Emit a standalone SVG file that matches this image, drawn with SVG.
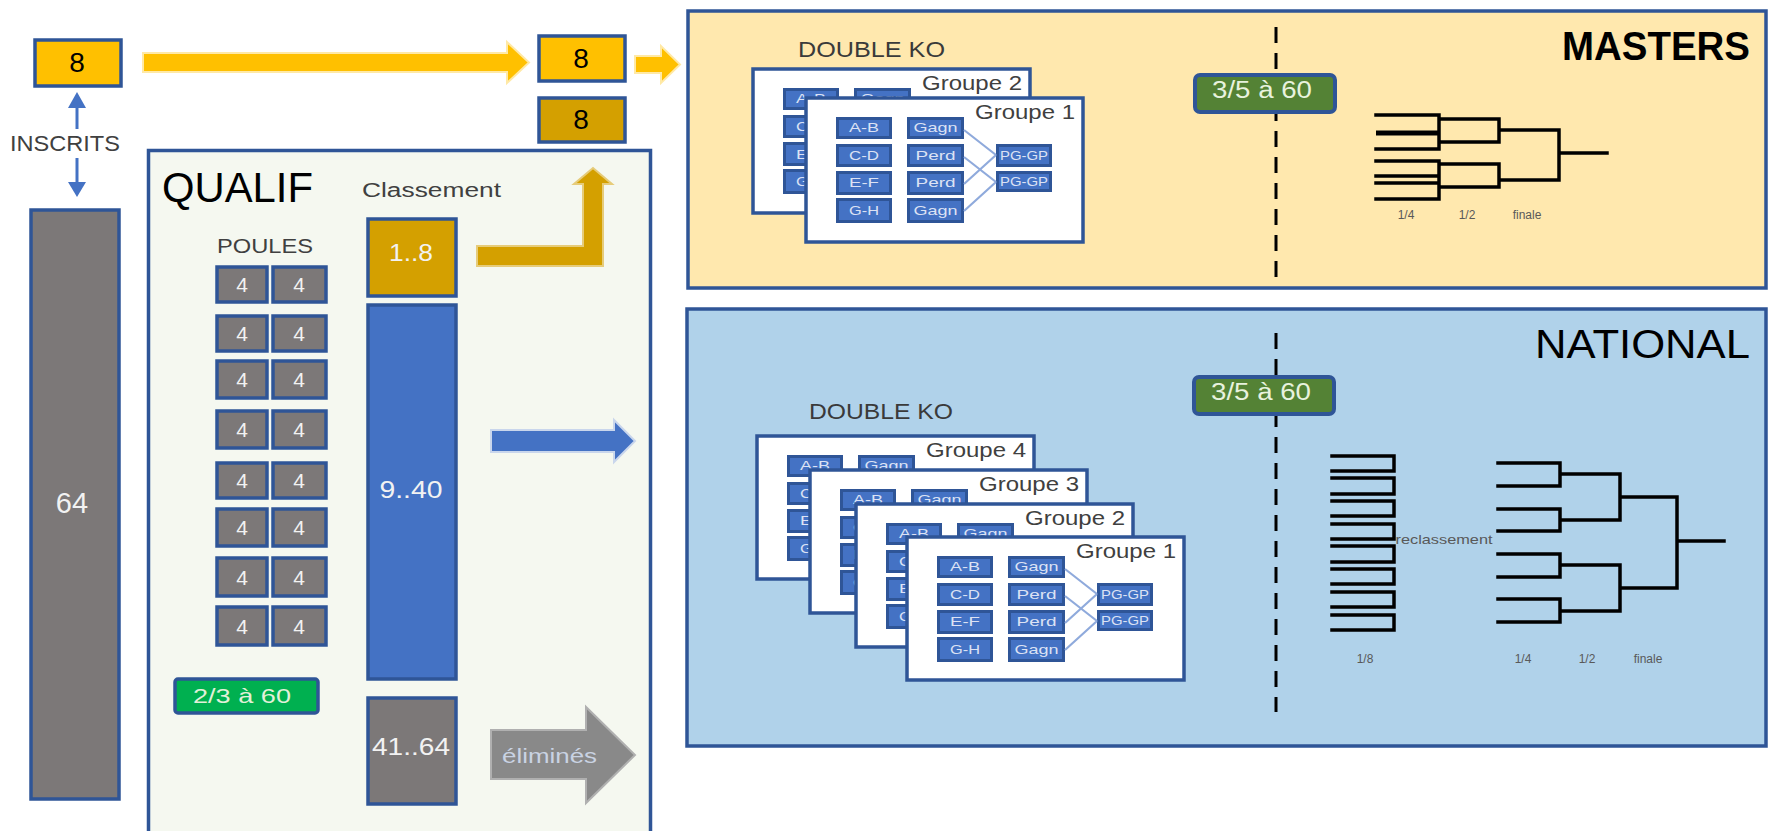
<svg xmlns="http://www.w3.org/2000/svg" width="1771" height="831" viewBox="0 0 1771 831">
<style>
text{font-family:"Liberation Sans",Arial,sans-serif;}
.bd{stroke:#2F5597;stroke-width:3.5;}
.gold{fill:#FFC000;}
.dgold{fill:#D4A000;}
.grey{fill:#7C7878;}
.blue{fill:#4472C4;}
.card{fill:#FFFFFF;stroke:#2F5597;stroke-width:3.5;}
.sb{fill:#4472C4;stroke:#2F5597;stroke-width:3;}
.st{fill:#DCE2F4;font-size:13px;text-anchor:middle;}
.gt{fill:#404040;font-size:20px;}
.wt{fill:#F2F2F2;text-anchor:middle;}
.x{stroke:#8FAADC;stroke-width:2.2;fill:none;}
.br{stroke:#000;stroke-width:3.5;fill:none;stroke-linecap:square;}
.lab{fill:#595959;font-size:12px;text-anchor:middle;}
.dash{stroke:#000;stroke-width:3;stroke-dasharray:16 10;}
.gr3{fill:#548235;stroke:#2F5597;stroke-width:4;}
</style>

<!-- panels -->
<g id="qualif">
<rect x="148.5" y="150.5" width="502" height="700" fill="#F5F8F0" class="bd"/>
<text x="162" y="202" font-size="43" fill="#000" textLength="151" lengthAdjust="spacingAndGlyphs">QUALIF</text>
<text x="362" y="197" font-size="20" fill="#404040" textLength="139" lengthAdjust="spacingAndGlyphs">Classement</text>
<text x="217" y="253" font-size="20" fill="#404040" textLength="96" lengthAdjust="spacingAndGlyphs">POULES</text>
</g>
<g id="masters">
<rect x="688" y="11" width="1078" height="277" fill="#FFE8AE" class="bd"/>
<text x="1562" y="60" font-size="40" font-weight="bold" fill="#000" textLength="188" lengthAdjust="spacingAndGlyphs">MASTERS</text>
<text x="798" y="57" font-size="22" fill="#3A3A3A" textLength="147" lengthAdjust="spacingAndGlyphs">DOUBLE KO</text>
<line x1="1276" y1="27" x2="1276" y2="279" class="dash"/>
</g>
<g id="national">
<rect x="687" y="309" width="1079" height="437" fill="#B0D2EA" class="bd"/>
<text x="1535" y="358" font-size="40" fill="#000" textLength="215" lengthAdjust="spacingAndGlyphs">NATIONAL</text>
<text x="809" y="419" font-size="22" fill="#3A3A3A" textLength="144" lengthAdjust="spacingAndGlyphs">DOUBLE KO</text>
<line x1="1276" y1="333" x2="1276" y2="712" class="dash"/>
</g>

<!-- left nodes -->
<g id="inscrits8">
<rect x="35" y="40" width="86" height="46" class="gold bd"/>
<text x="77" y="72" font-size="28" fill="#000" text-anchor="middle">8</text>
</g>
<g id="inscrits-label">
<text x="10" y="151" font-size="22" fill="#404040" textLength="110" lengthAdjust="spacingAndGlyphs">INSCRITS</text>
</g>
<g id="total64">
<rect x="31" y="210" width="88" height="589" class="grey bd"/>
<text x="72" y="513" font-size="29" class="wt">64</text>
</g>
<g id="masters8a">
<rect x="539" y="36" width="86" height="45" class="gold bd"/>
<text x="581" y="68" font-size="28" fill="#000" text-anchor="middle">8</text>
</g>
<g id="masters8b">
<rect x="539" y="98" width="86" height="44" class="dgold bd"/>
<text x="581" y="129" font-size="28" fill="#000" text-anchor="middle">8</text>
</g>

<!-- poules -->
<g id="poules">
<rect x="217" y="267" width="50" height="35" class="grey bd"/><rect x="273" y="267" width="53" height="35" class="grey bd"/>
<rect x="217" y="316" width="50" height="35" class="grey bd"/><rect x="273" y="316" width="53" height="35" class="grey bd"/>
<rect x="217" y="361" width="50" height="37" class="grey bd"/><rect x="273" y="361" width="53" height="37" class="grey bd"/>
<rect x="217" y="411" width="50" height="37" class="grey bd"/><rect x="273" y="411" width="53" height="37" class="grey bd"/>
<rect x="217" y="463" width="50" height="35" class="grey bd"/><rect x="273" y="463" width="53" height="35" class="grey bd"/>
<rect x="217" y="509" width="50" height="37" class="grey bd"/><rect x="273" y="509" width="53" height="37" class="grey bd"/>
<rect x="217" y="558" width="50" height="38" class="grey bd"/><rect x="273" y="558" width="53" height="38" class="grey bd"/>
<rect x="217" y="607" width="50" height="38" class="grey bd"/><rect x="273" y="607" width="53" height="38" class="grey bd"/>
<g font-size="21" class="wt">
<text x="242" y="292">4</text><text x="299" y="292">4</text>
<text x="242" y="341">4</text><text x="299" y="341">4</text>
<text x="242" y="387">4</text><text x="299" y="387">4</text>
<text x="242" y="437">4</text><text x="299" y="437">4</text>
<text x="242" y="488">4</text><text x="299" y="488">4</text>
<text x="242" y="535">4</text><text x="299" y="535">4</text>
<text x="242" y="585">4</text><text x="299" y="585">4</text>
<text x="242" y="634">4</text><text x="299" y="634">4</text>
</g>
</g>

<g id="rank1-8">
<rect x="368" y="219" width="88" height="77" class="dgold bd"/>
<text x="411" y="261" font-size="23" class="wt" textLength="44" lengthAdjust="spacingAndGlyphs">1..8</text>
</g>
<g id="rank9-40">
<rect x="368" y="305" width="88" height="374" class="blue bd"/>
<text x="411" y="498" font-size="23" class="wt" textLength="63" lengthAdjust="spacingAndGlyphs">9..40</text>
</g>
<g id="rank41-64">
<rect x="368" y="698" width="88" height="106" class="grey bd"/>
<text x="411" y="755" font-size="23" class="wt" textLength="78" lengthAdjust="spacingAndGlyphs">41..64</text>
</g>
<g id="ratio-qualif">
<rect x="175" y="679" width="143" height="34" rx="3" fill="#00B050" class="bd"/>
<text x="242" y="703" font-size="21" fill="#E2F0D9" text-anchor="middle" textLength="98" lengthAdjust="spacingAndGlyphs">2/3 à 60</text>
</g>

<!-- connectors -->
<g id="connectors">
<polygon points="143,53 507,53 507,42 529,62.5 507,83 507,72 143,72" fill="#FFC000" stroke="#FFE9A6" stroke-width="2"/>
<polygon points="635,56 661,56 661,46 680,64.5 661,83 661,73 635,73" fill="#FFC000" stroke="#FFE9A6" stroke-width="2"/>
<polygon points="477,246 583,246 583,184 574,184 593,168 612,184 603,184 603,266 477,266" fill="#D4A000" stroke="#E6CC7A" stroke-width="2"/>
<polygon points="491,430 614,430 614,420 635,441 614,462 614,452 491,452" fill="#4472C4" stroke="#C9D6EC" stroke-width="2"/>
<polygon points="491,730 586,730 586,707 635,755 586,803 586,779 491,779" fill="#898989" stroke="#B0B0B0" stroke-width="2"/>
<line x1="77" y1="129" x2="77" y2="104" stroke="#4472C4" stroke-width="3"/>
<polygon points="77,92 68,108 86,108" fill="#4472C4"/>
<line x1="77" y1="158" x2="77" y2="185" stroke="#4472C4" stroke-width="3"/>
<polygon points="68,182 86,182 77,197" fill="#4472C4"/>
</g>
<g id="elimines-label">
<text x="549.5" y="763" font-size="20" fill="#C9D3E3" text-anchor="middle" textLength="95" lengthAdjust="spacingAndGlyphs">éliminés</text>
</g>

<!-- MASTERS groups -->
<g id="m-groupe2">
<rect x="753" y="69" width="277" height="144" class="card"/>
<text x="922" y="90" class="gt" textLength="100" lengthAdjust="spacingAndGlyphs">Groupe 2</text>
<rect x="784.5" y="89.5" width="53" height="19" class="sb"/><rect x="855.5" y="89.5" width="54" height="19" class="sb"/>
<rect x="784.5" y="116.5" width="53" height="20" class="sb"/>
<rect x="784.5" y="143.5" width="53" height="21" class="sb"/>
<rect x="784.5" y="170.5" width="53" height="22" class="sb"/>
<text x="811" y="103" class="st" textLength="30" lengthAdjust="spacingAndGlyphs">A-B</text>
<text x="882.5" y="103" class="st" textLength="44" lengthAdjust="spacingAndGlyphs">Gagn</text>
<text x="811" y="131" class="st" textLength="30" lengthAdjust="spacingAndGlyphs">C-D</text>
<text x="811" y="159" class="st" textLength="30" lengthAdjust="spacingAndGlyphs">E-F</text>
<text x="811" y="186" class="st" textLength="30" lengthAdjust="spacingAndGlyphs">G-H</text>
</g>
<g id="m-groupe1">
<rect x="806" y="98" width="277" height="144" class="card"/>
<text x="975" y="119" class="gt" textLength="100" lengthAdjust="spacingAndGlyphs">Groupe 1</text>
<rect x="837.5" y="118.5" width="53" height="19" class="sb"/><rect x="908.5" y="118.5" width="54" height="19" class="sb"/>
<rect x="837.5" y="145.5" width="53" height="20" class="sb"/><rect x="908.5" y="145.5" width="54" height="20" class="sb"/>
<rect x="837.5" y="172.5" width="53" height="21" class="sb"/><rect x="908.5" y="172.5" width="54" height="21" class="sb"/>
<rect x="837.5" y="199.5" width="53" height="22" class="sb"/><rect x="908.5" y="199.5" width="54" height="22" class="sb"/>
<rect x="997.5" y="145.5" width="53" height="20" class="sb"/><rect x="997.5" y="172.5" width="53" height="18" class="sb"/>
<path class="x" d="M964,130 L996,155 M964,157 L996,182 M964,184 L996,155 M964,211 L996,182"/>
<text x="864" y="132" class="st" textLength="30" lengthAdjust="spacingAndGlyphs">A-B</text>
<text x="864" y="160" class="st" textLength="30" lengthAdjust="spacingAndGlyphs">C-D</text>
<text x="864" y="187" class="st" textLength="30" lengthAdjust="spacingAndGlyphs">E-F</text>
<text x="864" y="215" class="st" textLength="30" lengthAdjust="spacingAndGlyphs">G-H</text>
<text x="935.5" y="132" class="st" textLength="44" lengthAdjust="spacingAndGlyphs">Gagn</text>
<text x="935.5" y="160" class="st" textLength="40" lengthAdjust="spacingAndGlyphs">Perd</text>
<text x="935.5" y="187" class="st" textLength="40" lengthAdjust="spacingAndGlyphs">Perd</text>
<text x="935.5" y="215" class="st" textLength="44" lengthAdjust="spacingAndGlyphs">Gagn</text>
<text x="1024" y="160" class="st" textLength="48" lengthAdjust="spacingAndGlyphs">PG-GP</text>
<text x="1024" y="186" class="st" textLength="48" lengthAdjust="spacingAndGlyphs">PG-GP</text>
</g>
<g id="m-ratio">
<rect x="1195" y="75" width="140" height="37" rx="5" class="gr3"/>
<text x="1262" y="98" font-size="23" fill="#E8F2DE" text-anchor="middle" textLength="100" lengthAdjust="spacingAndGlyphs">3/5 à 60</text>
</g>
<g id="m-bracket">
<path class="br" d="M1376,115 H1439 M1376,149 H1439 M1376,161 H1439 M1376,176 H1439 M1376,183 H1439 M1376,199 H1439 M1439,115 V149 M1439,161 V199 M1439,119 H1499 M1439,142 H1499 M1439,164 H1499 M1439,187 H1499 M1499,119 V142 M1499,164 V187 M1499,130 H1559 M1499,180 H1559 M1559,130 V180 M1559,153 H1607"/>
<path d="M1376,133 H1439" stroke="#000" stroke-width="5"/>
<text x="1406" y="219" class="lab">1/4</text>
<text x="1467" y="219" class="lab">1/2</text>
<text x="1527" y="219" class="lab">finale</text>
</g>

<!-- NATIONAL groups -->
<g id="n-groupe4">
<rect x="757" y="436" width="277" height="143" class="card"/>
<text x="926" y="457" class="gt" textLength="100" lengthAdjust="spacingAndGlyphs">Groupe 4</text>
<rect x="788.5" y="456.5" width="53" height="19" class="sb"/><rect x="859.5" y="456.5" width="54" height="19" class="sb"/>
<rect x="788.5" y="483.5" width="53" height="20" class="sb"/>
<rect x="788.5" y="510.5" width="53" height="21" class="sb"/>
<rect x="788.5" y="537.5" width="53" height="22" class="sb"/>
<text x="815" y="470" class="st" textLength="30" lengthAdjust="spacingAndGlyphs">A-B</text>
<text x="886.5" y="470" class="st" textLength="44" lengthAdjust="spacingAndGlyphs">Gagn</text>
<text x="815" y="498" class="st" textLength="30" lengthAdjust="spacingAndGlyphs">C-D</text>
<text x="815" y="525" class="st" textLength="30" lengthAdjust="spacingAndGlyphs">E-F</text>
<text x="815" y="553" class="st" textLength="30" lengthAdjust="spacingAndGlyphs">G-H</text>
</g>
<g id="n-groupe3">
<rect x="810" y="470" width="277" height="143" class="card"/>
<text x="979" y="491" class="gt" textLength="100" lengthAdjust="spacingAndGlyphs">Groupe 3</text>
<rect x="841.5" y="490.5" width="53" height="19" class="sb"/><rect x="912.5" y="490.5" width="54" height="19" class="sb"/>
<rect x="841.5" y="517.5" width="53" height="20" class="sb"/>
<rect x="841.5" y="544.5" width="53" height="21" class="sb"/>
<rect x="841.5" y="571.5" width="53" height="22" class="sb"/>
<text x="868" y="504" class="st" textLength="30" lengthAdjust="spacingAndGlyphs">A-B</text>
<text x="939.5" y="504" class="st" textLength="44" lengthAdjust="spacingAndGlyphs">Gagn</text>
<text x="868" y="532" class="st" textLength="30" lengthAdjust="spacingAndGlyphs">C-D</text>
<text x="868" y="559" class="st" textLength="30" lengthAdjust="spacingAndGlyphs">E-F</text>
<text x="868" y="587" class="st" textLength="30" lengthAdjust="spacingAndGlyphs">G-H</text>
</g>
<g id="n-groupe2">
<rect x="856" y="504" width="277" height="143" class="card"/>
<text x="1025" y="525" class="gt" textLength="100" lengthAdjust="spacingAndGlyphs">Groupe 2</text>
<rect x="887.5" y="524.5" width="53" height="19" class="sb"/><rect x="958.5" y="524.5" width="54" height="19" class="sb"/>
<rect x="887.5" y="551.5" width="53" height="20" class="sb"/>
<rect x="887.5" y="578.5" width="53" height="21" class="sb"/>
<rect x="887.5" y="605.5" width="53" height="22" class="sb"/>
<text x="914" y="538" class="st" textLength="30" lengthAdjust="spacingAndGlyphs">A-B</text>
<text x="985.5" y="538" class="st" textLength="44" lengthAdjust="spacingAndGlyphs">Gagn</text>
<text x="914" y="566" class="st" textLength="30" lengthAdjust="spacingAndGlyphs">C-D</text>
<text x="914" y="593" class="st" textLength="30" lengthAdjust="spacingAndGlyphs">E-F</text>
<text x="914" y="621" class="st" textLength="30" lengthAdjust="spacingAndGlyphs">G-H</text>
</g>
<g id="n-groupe1">
<rect x="907" y="537" width="277" height="143" class="card"/>
<text x="1076" y="558" class="gt" textLength="100" lengthAdjust="spacingAndGlyphs">Groupe 1</text>
<rect x="938.5" y="557.5" width="53" height="19" class="sb"/><rect x="1009.5" y="557.5" width="54" height="19" class="sb"/>
<rect x="938.5" y="584.5" width="53" height="20" class="sb"/><rect x="1009.5" y="584.5" width="54" height="20" class="sb"/>
<rect x="938.5" y="611.5" width="53" height="21" class="sb"/><rect x="1009.5" y="611.5" width="54" height="21" class="sb"/>
<rect x="938.5" y="638.5" width="53" height="22" class="sb"/><rect x="1009.5" y="638.5" width="54" height="22" class="sb"/>
<rect x="1098.5" y="584.5" width="53" height="20" class="sb"/><rect x="1098.5" y="611.5" width="53" height="18" class="sb"/>
<path class="x" d="M1065,569 L1097,594 M1065,596 L1097,621 M1065,623 L1097,594 M1065,650 L1097,621"/>
<text x="965" y="571" class="st" textLength="30" lengthAdjust="spacingAndGlyphs">A-B</text>
<text x="965" y="599" class="st" textLength="30" lengthAdjust="spacingAndGlyphs">C-D</text>
<text x="965" y="626" class="st" textLength="30" lengthAdjust="spacingAndGlyphs">E-F</text>
<text x="965" y="654" class="st" textLength="30" lengthAdjust="spacingAndGlyphs">G-H</text>
<text x="1036.5" y="571" class="st" textLength="44" lengthAdjust="spacingAndGlyphs">Gagn</text>
<text x="1036.5" y="599" class="st" textLength="40" lengthAdjust="spacingAndGlyphs">Perd</text>
<text x="1036.5" y="626" class="st" textLength="40" lengthAdjust="spacingAndGlyphs">Perd</text>
<text x="1036.5" y="654" class="st" textLength="44" lengthAdjust="spacingAndGlyphs">Gagn</text>
<text x="1125" y="599" class="st" textLength="48" lengthAdjust="spacingAndGlyphs">PG-GP</text>
<text x="1125" y="625" class="st" textLength="48" lengthAdjust="spacingAndGlyphs">PG-GP</text>
</g>
<g id="n-ratio">
<rect x="1194" y="377" width="140" height="37" rx="5" class="gr3"/>
<text x="1261" y="400" font-size="23" fill="#E8F2DE" text-anchor="middle" textLength="100" lengthAdjust="spacingAndGlyphs">3/5 à 60</text>
</g>
<g id="n-bracket">
<path class="br" d="M1332,456 H1394 M1332,471 H1394 M1394,456 V471 M1332,478 H1394 M1332,494 H1394 M1394,478 V494 M1332,501 H1394 M1332,516 H1394 M1394,501 V516 M1332,524 H1394 M1332,539 H1394 M1394,524 V539 M1332,546 H1394 M1332,562 H1394 M1394,546 V562 M1332,569 H1394 M1332,584 H1394 M1394,569 V584 M1332,592 H1394 M1332,607 H1394 M1394,592 V607 M1332,615 H1394 M1332,630 H1394 M1394,615 V630"/>
<text x="1444" y="544" font-size="13" fill="#595959" text-anchor="middle" textLength="97" lengthAdjust="spacingAndGlyphs">reclassement</text>
<path class="br" d="M1498,463 H1560 M1498,486 H1560 M1560,463 V486 M1498,509 H1560 M1498,531 H1560 M1560,509 V531 M1498,554 H1560 M1498,577 H1560 M1560,554 V577 M1498,599 H1560 M1498,622 H1560 M1560,599 V622 M1560,474 H1620 M1560,520 H1620 M1620,474 V520 M1560,565 H1620 M1560,611 H1620 M1620,565 V611 M1620,497 H1677 M1620,588 H1677 M1677,497 V588 M1677,541 H1724"/>
<text x="1365" y="663" class="lab">1/8</text>
<text x="1523" y="663" class="lab">1/4</text>
<text x="1587" y="663" class="lab">1/2</text>
<text x="1648" y="663" class="lab">finale</text>
</g>
</svg>
